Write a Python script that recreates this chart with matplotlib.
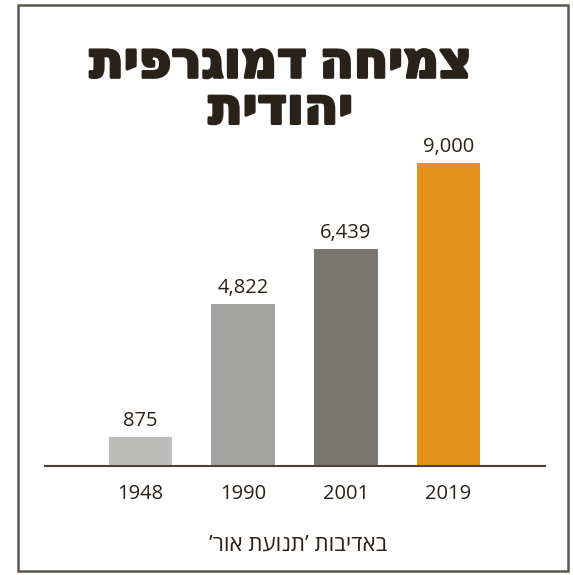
import matplotlib
matplotlib.use("Agg")
import matplotlib.pyplot as plt
import matplotlib.patches as patches
import matplotlib.patheffects as pe

# data
years = ["1948", "1990", "2001", "2019"]
values = [875, 4822, 6439, 9000]
colors = ["#bcbcba", "#a3a3a1", "#797672", "#e3911a"]

title_lines = ["צמיחה דמוגרפית", "יהודית"]
caption = "באדיבות ’תנועת אור’"

text_color = "#2a2218"
fonts = ["Open Sans", "DejaVu Sans"]


def rtl(s):
    # matplotlib has no bidi support, so reverse for visual order
    return s[::-1]


fig = plt.figure(figsize=(5.73, 5.75), dpi=100)
ax = fig.add_axes([0.0785, 0.1896, 0.8726, 0.567])

x = list(range(len(years)))
ax.bar(x, values, width=0.62, color=colors)

for xi, v in zip(x, values):
    ax.text(xi, v + 170, f"{v:,}", ha="center", va="bottom",
            fontsize=14.5, color=text_color, family=fonts)

ax.set_xlim(-0.93, 3.94)
ax.set_ylim(0, 9683)
ax.set_xticks(x)
ax.set_xticklabels(years, fontsize=14.5, color=text_color, family=fonts)
ax.tick_params(axis="x", length=0, pad=13)
ax.set_yticks([])
for side in ["top", "right", "left"]:
    ax.spines[side].set_visible(False)
ax.spines["bottom"].set_color("#4a4238")
ax.spines["bottom"].set_linewidth(1.5)

# title, one text block so the two lines share a box
thick = [pe.withStroke(linewidth=2.2, foreground=text_color)]
title = "\n".join(rtl(t) for t in title_lines)
fig.text(0.49, 0.848, title, ha="center", va="center", multialignment="center",
         linespacing=0.9, fontsize=36, fontweight="heavy", color=text_color,
         family=fonts, path_effects=thick)

fig.text(0.52, 0.052, rtl(caption), ha="center", va="center",
         fontsize=16, color=text_color, family=fonts)

# frame around the graphic
fig.patches.append(patches.Rectangle((18 / 573, 4 / 575), 550 / 573, 566 / 575,
                                     transform=fig.transFigure, fill=False,
                                     edgecolor="#5a564e", linewidth=1.8))

fig.savefig("out.png", dpi=100)
